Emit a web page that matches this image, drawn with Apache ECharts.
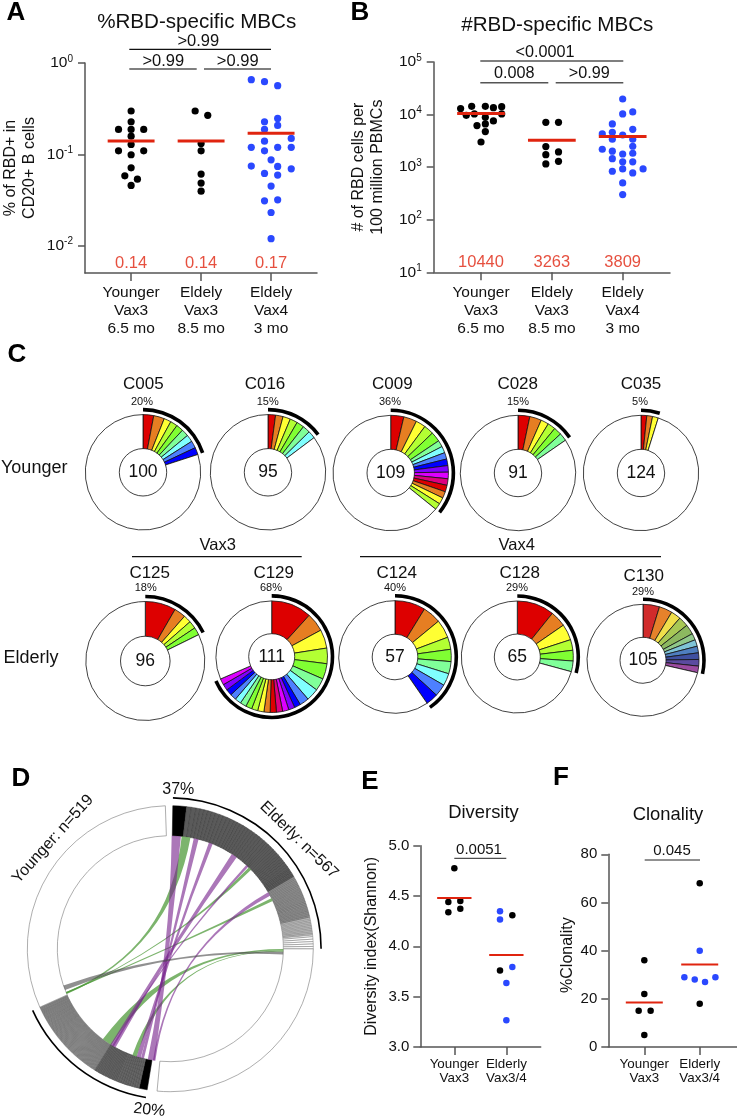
<!DOCTYPE html>
<html><head><meta charset="utf-8">
<style>html,body{margin:0;padding:0;background:#fff}#c{width:737px;height:1118px}</style>
<script src="https://cdn.jsdelivr.net/npm/echarts@6/dist/echarts.min.js"></script>
</head><body><div id="c"></div>
<script>
// ---------- Panel A ----------
const categoriesAB = ['Younger\nVax3\n6.5 mo', 'Eldely\nVax3\n8.5 mo', 'Eldely\nVax4\n3 mo'];
const pctYoungerVax3 = [[1,.298],[1,.227],[.82,.187],[1,.187],[1.18,.187],[1,.158],[1,.128],[.82,.109],[1.18,.109],[1,.0988],[1,.0711],[.91,.0581],[1.09,.0534],[1,.0455]];
const pctElderlyVax3 = [[1.915,.298],[2.095,.267],[2,.131],[2,.109],[2,.0606],[2,.0483],[2,.0394]];
const pctElderlyVax4 = [[2.717,.656],[2.906,.624],[3.094,.564],[2.906,.227],[3.094,.247],[3.094,.207],[2.906,.187],[3.288,.149],[2.906,.139],[2.717,.119],[3.094,.119],[3.288,.119],[2.906,.109],[3,.087],[2.717,.0742],[3.094,.0736],[3.288,.0693],[2.906,.0616],[3.094,.0591],[3,.0448],[2.906,.0309],[3.094,.0317],[3,.023],[3,.0119]];
const pctMedians = [.14,.14,.17];
const pctMedianLabels = ['0.14','0.14','0.17'];
// ---------- Panel B ----------
const numYoungerVax3 = [[.712,12980],[.868,14350],[1.061,14350],[1.175,13540],[1.292,14150],[.792,9680],[.906,10270],[1.061,8870],[1.292,10270],[1.175,7560],[.943,6170],[1.061,6640],[1.061,4750],[1,3010]];
const numElderlyVax3 = [[1.915,7130],[2.094,7130],[1.915,2460],[1.915,1730],[2.094,1950],[1.915,1150],[2.094,1290]];
const numElderlyVax4 = [[3,19800],[3,10270],[3.142,11220],[2.854,6640],[3.142,5250],[2.712,4280],[2.854,4600],[3,4090],[2.854,3390],[3.142,3390],[3.142,2500],[2.712,2190],[2.854,2010],[3,1780],[3.142,1840],[2.854,1450],[3,1260],[3.142,1260],[3,925],[2.854,836],[3.142,776],[3.288,925],[3,501],[3,301]];
const numMedians = [10440,3263,3809];
const numMedianLabels = ['10440','3263','3809'];
// ---------- Panel C: clone sizes and total sequences ----------
const C005 = [3,3,2,2,2,2,2,2,2], C005n = 100;
const C016 = [2,2,2,2,2,2,2], C016n = 95;
const C009 = [4,4,3,3,3,2,2,2,2,2,2,2,2,2,2,2], C009n = 109;
const C028 = [3,3,2,2,2,2], C028n = 91;
const C035 = [2,2,2], C035n = 124;
const C125 = [8,3,2,2,2], C125n = 96;
const C129 = [13,6,6,5,5,4,4,3,2,2,2,2,2,2,2,2,2,2,2,2,2,2,2], C129n = 111;
const C124 = [5,3,3,2,2,2,2,2,2], C124n = 57;
const C128 = [7,3,3,2,2,2], C128n = 65;
const C130 = [5,4,3,3,3,2,2,2,2,2,2], C130n = 105;
const clonePalette = ['#dd0000','#e67e22','#ffff33','#b3ff33','#80ff33','#80ff99','#80ffff','#4d80ff','#0000ff','#8000ff','#dd00ff','#dd0080'];
const c130Palette = ['#d12b2b','#e6822b','#f0df4b','#a8c855','#8cb860','#90c88a','#7fc4d8','#4f7fc0','#3f50a0','#5b4ba0','#9b4ba0'];
// ---------- Panel D: clone sizes [size, repeat] ----------
const elderlyRuns = [[17,1],[6,2],[5,10],[4,12],[3,14],[2,45],[3,5]];
const elderlyTotal = 567;
const youngerRuns = [[10,1],[3,10],[2,15],[1,104]];
const youngerTotal = 519;
// ribbons: elderly angle from, to, younger angle from, to (degrees round the circle)
const purpleRibbons = [[.7,5.4,188,191.5],[12,14.5,193.5,195],[20,22,195.2,197.3],[33,36,209,212],[42.3,43.6,210,211],[60,62,187.6,188.8]];
const greenRibbons = [[5.8,10.3,246.3,247.3],[44,45.7,246.6,247.2],[63.5,65,246.8,247.5],[90.1,91,211.5,216.7],[91,91.6,197.3,199.6]];
const grayRibbons = [[91.6,93,248.6,251]];
// ---------- Panel E ----------
const categoriesEF = ['Younger\nVax3','Elderly\nVax3/4'];
const diversityYounger = [[1,4.775],[.885,4.44],[1.115,4.45],[.885,4.34],[1.115,4.374]];
const diversityElderlyBlack = [[2.115,4.31],[1.878,3.76]];
const diversityElderlyBlue = [[1.878,4.348],[1.878,4.268],[2.115,3.795],[2,3.636],[2,3.265]];
const diversityMeans = [4.48,3.914];
// ---------- Panel F ----------
const clonalityYounger = [[1,36],[1,22],[.898,15],[1.114,15],[1,5]];
const clonalityElderlyBlack = [[2,68],[2,18]];
const clonalityElderlyBlue = [[2,40],[1.723,29],[1.91,28],[2.096,27],[2.283,29]];
const clonalityMeans = [18.5,34.2];

// ---------- styling helpers ----------
const FONT = '"Liberation Sans",Arial,sans-serif';
const BLUE = '#2a48ff', RED = '#e0240f', AX = '#555';
const expand = runs => runs.flatMap(([s,k]) => Array(k).fill(s));
const graphics = [];
const tx = (text,x,y,size,o={}) => graphics.push({type:'text',x,y,rotation:(o.rot||0)*Math.PI/180,silent:true,
  style:{text,fontFamily:FONT,fontSize:size,fontWeight:o.bold?'bold':'normal',fill:o.fill||'#111',align:o.align||'center',verticalAlign:'middle'}});
const ln = (x1,y1,x2,y2,color='#111',w=1.2) => graphics.push({type:'line',silent:true,shape:{x1,y1,x2,y2},style:{stroke:color,lineWidth:w}});

const grids=[], xAxes=[], yAxes=[], series=[];
function addPanel(g,xr,yo,xLab,lh,labMargin,labSize){
  const i=grids.length; grids.push(g);
  xAxes.push({type:'value',gridIndex:i,min:xr[0],max:xr[1],splitLine:{show:false},
    axisLine:{lineStyle:{color:AX,width:1.5}},
    axisTick:{length:8,lineStyle:{color:AX,width:1.5},customValues:xLab.map((_,k)=>k+1)},
    axisLabel:{customValues:xLab.map((_,k)=>k+1),formatter:v=>xLab[Math.round(v)-1],fontFamily:FONT,fontSize:labSize,lineHeight:lh,margin:labMargin,color:'#111'}});
  yAxes.push(Object.assign({gridIndex:i,splitLine:{show:false},axisLine:{show:true,lineStyle:{color:AX,width:1.5}},
    axisTick:{show:true,length:7,lineStyle:{color:AX,width:1.5}}},yo));
  return i;
}
function dots(i,data,color,size){series.push({type:'scatter',xAxisIndex:i,yAxisIndex:i,data,symbolSize:size,itemStyle:{color,opacity:1},silent:true,z:3});}
function bars(i,vals,half,w){vals.forEach((v,k)=>series.push({type:'line',xAxisIndex:i,yAxisIndex:i,data:[[k+1-half,v],[k+1+half,v]],showSymbol:false,symbol:'none',silent:true,z:4,lineStyle:{color:RED,width:w}}));}
const logFmt = v => {const e=Math.round(Math.log10(v));return '{b|10}{s|'+e+'}';};
const logLabel = {formatter:logFmt,margin:12,rich:{b:{fontFamily:FONT,fontSize:15.5,color:'#111',lineHeight:20},s:{fontFamily:FONT,fontSize:10,color:'#111',padding:[0,0,8,0],lineHeight:20}}};
const yName = {fontFamily:FONT,fontSize:16,color:'#111',lineHeight:19};
const redLabel = {show:true,position:'inside',formatter:p=>p.value[2],fontFamily:FONT,fontSize:16.5,color:RED};

// Panel A
let i = addPanel({left:83,top:63,width:234,height:210},[.341,3.656],
 {type:'log',logBase:10,min:.005,max:1,name:'% of RBD+ in\nCD20+ B cells',nameLocation:'middle',nameRotate:90,nameGap:46,nameTextStyle:yName,
  axisLabel:Object.assign({},logLabel,{customValues:[.01,.1,1]}),axisTick:{show:true,length:7,lineStyle:{color:AX,width:1.5},customValues:[.01,.1,1]}},
 categoriesAB,18,11,15.5);
dots(i,pctYoungerVax3,'#000',7.2);dots(i,pctElderlyVax3,'#000',7.2);dots(i,pctElderlyVax4,BLUE,7.2);bars(i,pctMedians,.335,3);
series.push({type:'scatter',xAxisIndex:i,yAxisIndex:i,symbolSize:1,itemStyle:{color:'transparent'},silent:true,data:pctMedianLabels.map((t,k)=>[k+1,.0064,t]),label:redLabel,z:5});
// Panel B
i = addPanel({left:433.7,top:62,width:236.3,height:210.3},[.332,3.668],
 {type:'log',logBase:10,min:10,max:100000,name:'# of RBD cells per\n100 million PBMCs',nameLocation:'middle',nameRotate:90,nameGap:46.7,nameTextStyle:yName,
  axisLabel:logLabel},categoriesAB,18,11,15.5);
dots(i,numYoungerVax3,'#000',7.2);dots(i,numElderlyVax3,'#000',7.2);dots(i,numElderlyVax4,BLUE,7.2);bars(i,numMedians,.337,3);
series.push({type:'scatter',xAxisIndex:i,yAxisIndex:i,symbolSize:1,itemStyle:{color:'transparent'},silent:true,data:numMedianLabels.map((t,k)=>[k+1,15.5,t]),label:redLabel,z:5});
// Panel E
const numLab = {fontFamily:FONT,fontSize:15,color:'#111',margin:11};
i = addPanel({left:420.3,top:845.7,width:120.4,height:201.3},[.346,2.66],
 {type:'value',min:3,max:5,interval:.5,name:'Diversity index(Shannon)',nameLocation:'middle',nameRotate:90,nameGap:39,nameTextStyle:yName,
  axisLabel:Object.assign({},numLab,{formatter:v=>v.toFixed(1)})},categoriesEF,14,10,13.4);
dots(i,diversityYounger,'#000',6.5);dots(i,diversityElderlyBlack,'#000',6.5);dots(i,diversityElderlyBlue,BLUE,6.5);bars(i,diversityMeans,.33,2);
// Panel F
i = addPanel({left:608.3,top:854.3,width:128.7,height:192.7},[.35,2.673],
 {type:'value',min:0,max:80,interval:20,name:'%Clonality',nameLocation:'middle',nameRotate:90,nameGap:30,nameTextStyle:Object.assign({},yName,{padding:[0,9,0,0]}),
  axisLabel:numLab},categoriesEF,14,10,13.4);
dots(i,clonalityYounger,'#000',6.5);dots(i,clonalityElderlyBlack,'#000',6.5);dots(i,clonalityElderlyBlue,BLUE,6.5);bars(i,clonalityMeans,.334,2);

// Panel C donuts
function donut(slices,n,cx,cy,r,rin,pal){
  const used=slices.reduce((a,b)=>a+b,0);
  const base={type:'pie',center:[cx,cy],startAngle:90,clockwise:true,silent:true,avoidLabelOverlap:false,emphasis:{disabled:true},labelLine:{show:false},label:{show:false}};
  series.push(Object.assign({},base,{radius:[rin,r],z:2,itemStyle:{borderColor:'#111',borderWidth:.8},
    data:slices.map((v,k)=>({value:v,itemStyle:{color:pal[k%pal.length]}})).concat([{value:n-used,itemStyle:{color:'#fff'},
      label:{show:true,position:'center',formatter:String(n),fontFamily:FONT,fontSize:17.5,color:'#111'}}])}));
  series.push(Object.assign({},base,{radius:[r+3.2,r+6.8],z:2,itemStyle:{borderWidth:0},
    data:[{value:used,itemStyle:{color:'#000'}},{value:n-used,itemStyle:{color:'transparent'}}]}));
}
donut(C005,C005n,143,472.3,57.7,23.7,clonePalette);
donut(C016,C016n,268,472.3,57.7,23.7,clonePalette);
donut(C009,C009n,390.7,473,57.7,23.7,clonePalette);
donut(C028,C028n,518,473,57.7,23.7,clonePalette);
donut(C035,C035n,641,473,57.7,23.7,clonePalette);
donut(C125,C125n,145.3,661,59.5,24.8,clonePalette);
donut(C129,C129n,271.7,656.7,55.8,23,clonePalette);
donut(C124,C124n,395,657,56.3,22.8,clonePalette);
donut(C128,C128n,517.3,657,56,23,clonePalette);
donut(C130,C130n,643,660.3,56,23,c130Palette);

// Panel D chord
const CX=170.3, CY=948.7;
const elderly=expand(elderlyRuns), younger=expand(youngerRuns);
const sum=a=>a.reduce((p,q)=>p+q,0);
let run=0;
const elderStyle=s=>{run+=s;
  if(s>=10) return {color:'#000',borderColor:'#000',borderWidth:.5};
  if(run>258) return {color:'#fff',borderColor:'#777',borderWidth:.5};
  if(run>235) return {color:'#c0c0c0',borderColor:'#555',borderWidth:.3};
  if(run>181) return {color:'#8f8f8f',borderColor:'#444',borderWidth:.3};
  return {color:'#5a5a5a',borderColor:'#333',borderWidth:.45};};
const youngStyle=s=>s>=10?{color:'#000',borderColor:'#000',borderWidth:.5}:s>=2?{color:'#666',borderColor:'#333',borderWidth:.4}:{color:'#868686',borderColor:'#444',borderWidth:.22};
const gapA=12.3, gapB=9.2;
const ringData=[].concat(
  elderly.map(s=>({value:s,itemStyle:elderStyle(s)})),
  [{value:elderlyTotal-sum(elderly),itemStyle:{color:'#fff',borderColor:'#777',borderWidth:.6}},{value:gapA,itemStyle:{color:'transparent',borderWidth:0}}],
  younger.map(s=>({value:s,itemStyle:youngStyle(s)})),
  [{value:youngerTotal-sum(younger),itemStyle:{color:'#fff',borderColor:'#777',borderWidth:.6}},{value:gapB,itemStyle:{color:'transparent',borderWidth:0}}]);
const pieBase={type:'pie',center:[CX,CY],startAngle:89,clockwise:true,silent:true,avoidLabelOverlap:false,emphasis:{disabled:true},label:{show:false},labelLine:{show:false}};
series.push(Object.assign({},pieBase,{radius:[113,143],data:ringData}));
series.push(Object.assign({},pieBase,{radius:[150,151.6],itemStyle:{borderWidth:0},data:[
  {value:sum(elderly),itemStyle:{color:'#000'}},{value:elderlyTotal-sum(elderly)+gapA,itemStyle:{color:'transparent'}},
  {value:sum(younger),itemStyle:{color:'#000'}},{value:youngerTotal-sum(younger)+gapB,itemStyle:{color:'transparent'}}]}));
function ribbon(data,fill){
  series.push({type:'custom',coordinateSystem:'polar',polarIndex:0,silent:true,z:5,data,
    renderItem:(p,api)=>{
      const P=(a)=>api.coord([1,a]), c=api.coord([0,0]);
      const a1=P(api.value(0)),a2=P(api.value(1)),b1=P(api.value(2)),b2=P(api.value(3));
      const s=q=>q[0].toFixed(2)+' '+q[1].toFixed(2);
      return {type:'path',shape:{pathData:`M${s(a1)}Q${s(c)} ${s(b2)}L${s(b1)}Q${s(c)} ${s(a2)}Z`},style:{fill,stroke:null}};
    }});
}
ribbon(greenRibbons,'rgba(80,155,60,.75)');
ribbon(purpleRibbons,'rgba(120,35,140,.62)');
ribbon(grayRibbons,'rgba(70,70,70,.6)');

// Text and annotation
[['A',16,13],['B',360,13],['C',17,355],['D',21,779],['E',370,782],['F',561,778]].forEach(([t,x,y])=>tx(t,x,y,26,{bold:true,fill:'#000'}));
tx('%RBD-specific MBCs',196.7,22.7,20.6);
tx('#RBD-specific MBCs',557.3,25,20.6);
tx('>0.99',198.3,41.7,16.5);ln(129.3,49.3,271,49.3);
tx('>0.99',163.3,61,16.5);tx('>0.99',237.7,61,16.5);ln(129.3,69,196.7,69,AX,1.5);ln(204,69,271,69,AX,1.5);
tx('<0.0001',545,52.7,16.2);ln(480.3,61,623.3,61,AX,1.5);
tx('0.008',514.3,73.7,16.2);tx('>0.99',589.3,73.7,16.2);ln(480.3,82.7,548.3,82.7,AX,1.5);ln(555.7,82.7,623.3,82.7,AX,1.5);
[['C005',143.3,384,'20%',142,401.7],['C016',265,384,'15%',267.7,401.7],['C009',392.3,384,'36%',390,401.7],['C028',517.7,384,'15%',518,401.7],['C035',641,384,'5%',640,401.7],
 ['C125',149.7,573.3,'18%',145.7,588.3],['C129',273.7,573.3,'68%',271,588.3],['C124',396.7,573.3,'40%',395,588.3],['C128',519.7,573.3,'29%',517,588.3],['C130',643.7,576.7,'29%',643,591.7]]
 .forEach(([a,x,y,b,x2,y2])=>{tx(a,x,y,17);tx(b,x2,y2,11);});
tx('Younger',1,468,18,{align:'left'});tx('Elderly',3.5,657.7,18,{align:'left'});
tx('Vax3',217.7,545,16.5);ln(132,556.7,301.7,556.7);
tx('Vax4',516.7,545,16.5);ln(360,556.7,661,556.7);
tx('Younger: n=519',53,839,16,{rot:48});
tx('Elderly: n=567',299,840,16,{rot:-44.4});
tx('37%',178.3,790,16);tx('20%',149.3,1110,16,{rot:-6});
tx('Diversity',483.5,813,18.4);tx('Clonality',668,815,18.4);
tx('0.0051',479,850,15);ln(454.3,858.3,506.3,858.3,'#222',1);
tx('0.045',672,851,15);ln(644.7,860,700,860,'#222',1);

const chart=echarts.init(document.getElementById('c'),null,{renderer:'canvas'});
chart.setOption({animation:false,backgroundColor:'#fff',
  grid:grids,xAxis:xAxes,yAxis:yAxes,
  polar:{center:[CX,CY],radius:113},
  angleAxis:{min:0,max:360,startAngle:90,clockwise:true,show:false},
  radiusAxis:{min:0,max:1,show:false},
  series,graphic:graphics});
</script></body></html>
